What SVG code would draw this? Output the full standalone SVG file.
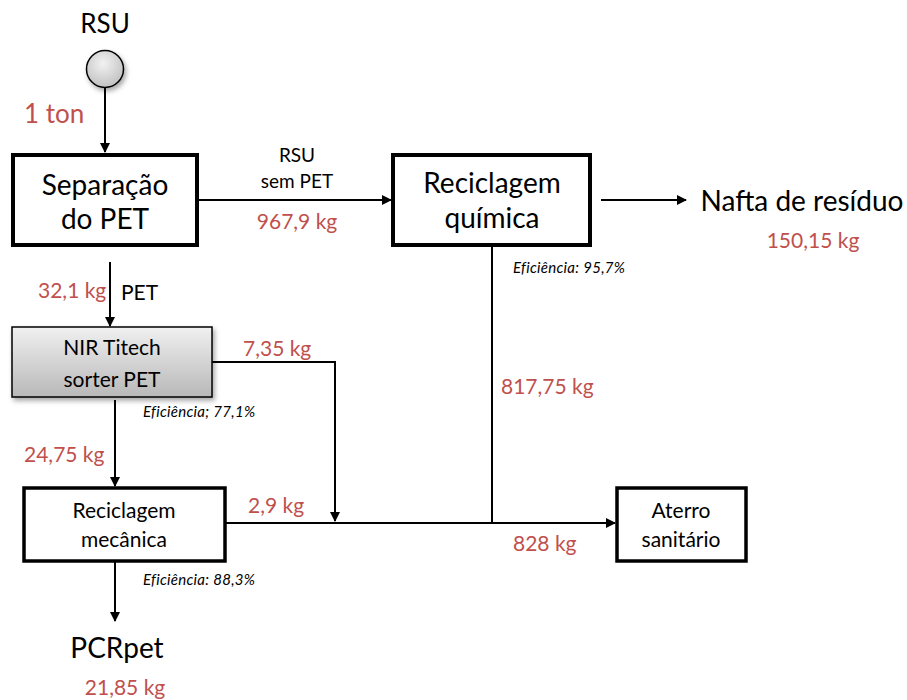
<svg xmlns="http://www.w3.org/2000/svg" width="907" height="700" viewBox="0 0 907 700">
  <style>
    text { font-family: Lato, "Open Sans", "Liberation Sans", sans-serif; fill: #000; }
    .big { font-size: 28px; }
    .mid { font-size: 21px; }
    .sm { font-size: 19px; }
    .qty { fill: #C0504D; font-size: 21px; }
    .eff { font-style: italic; font-size: 15px; letter-spacing: 0.3px; }
    .box { fill: #fff; stroke: #000; stroke-width: 4; }
    .line { fill: none; stroke: #000; stroke-width: 2; }
  </style>
  <defs>
    <marker id="arrow" markerWidth="10" markerHeight="10" refX="9" refY="5" orient="auto" markerUnits="userSpaceOnUse">
      <path d="M0,0 L10,5 L0,10 z" fill="#000"/>
    </marker>
    <linearGradient id="grayV" x1="0" y1="0" x2="0" y2="1">
      <stop offset="0" stop-color="#f0f0f0"/>
      <stop offset="1" stop-color="#b8b8b8"/>
    </linearGradient>
    <radialGradient id="grayR" cx="0.45" cy="0.35" r="0.7">
      <stop offset="0" stop-color="#f2f2f2"/>
      <stop offset="1" stop-color="#bdbdbd"/>
    </radialGradient>
    <filter id="shadow" x="-20%" y="-20%" width="150%" height="150%">
      <feDropShadow dx="2" dy="3" stdDeviation="2.5" flood-color="#000" flood-opacity="0.35"/>
    </filter>
  </defs>

  <!-- connectors -->
  <g id="connectors">
    <line class="line" x1="105" y1="88" x2="105" y2="152" marker-end="url(#arrow)"/>
    <line class="line" x1="197" y1="200" x2="391" y2="200" marker-end="url(#arrow)"/>
    <line class="line" x1="601" y1="200" x2="686" y2="200" marker-end="url(#arrow)"/>
    <line class="line" x1="110" y1="262" x2="110" y2="326" marker-end="url(#arrow)"/>
    <polyline class="line" points="212,362 335,362 335,521" marker-end="url(#arrow)"/>
    <line class="line" x1="115" y1="400" x2="115" y2="486" marker-end="url(#arrow)"/>
    <line class="line" x1="225" y1="523" x2="492" y2="523"/>
    <line class="line" x1="492" y1="246" x2="492" y2="523"/>
    <line class="line" x1="492" y1="523" x2="615" y2="523" stroke-width="3" marker-end="url(#arrow)"/>
    <line class="line" x1="115" y1="561" x2="115" y2="621" marker-end="url(#arrow)"/>
  </g>

  <!-- source -->
  <g id="rsu">
    <text class="big" x="105" y="33" text-anchor="middle" style="font-size:26px">RSU</text>
    <circle cx="105" cy="69" r="18.5" fill="url(#grayR)" stroke="#000" stroke-width="1.5" filter="url(#shadow)"/>
    <text class="qty" x="24" y="123" style="font-size:26px">1 ton</text>
  </g>

  <g id="separacao">
    <rect class="box" x="13" y="155" width="184" height="90"/>
    <text class="big" x="105" y="195" text-anchor="middle">Separação</text>
    <text class="big" x="105" y="229" text-anchor="middle">do PET</text>
  </g>

  <g id="flow-rsu-sem-pet">
    <text class="sm" x="297" y="162" text-anchor="middle">RSU</text>
    <text class="sm" x="297" y="188" text-anchor="middle">sem PET</text>
    <text class="qty" x="297" y="229" text-anchor="middle">967,9 kg</text>
  </g>

  <g id="reciclagem-quimica">
    <rect class="box" x="393" y="155" width="197" height="90"/>
    <text class="big" x="492" y="193" text-anchor="middle">Reciclagem</text>
    <text class="big" x="492" y="228" text-anchor="middle">química</text>
    <text class="eff" x="513" y="273">Eficiência: 95,7%</text>
  </g>

  <g id="nafta">
    <text class="big" x="802" y="211" text-anchor="middle">Nafta de resíduo</text>
    <text class="qty" x="813" y="248" text-anchor="middle">150,15 kg</text>
  </g>

  <g id="flow-pet">
    <text class="qty" x="38" y="298">32,1 kg</text>
    <text class="mid" x="121" y="300">PET</text>
  </g>

  <g id="nir-sorter">
    <rect x="12" y="327" width="200" height="70" fill="url(#grayV)" stroke="#000" stroke-width="1.5" filter="url(#shadow)"/>
    <text class="mid" x="112" y="355" text-anchor="middle">NIR Titech</text>
    <text class="mid" x="112" y="387" text-anchor="middle">sorter PET</text>
    <text class="eff" x="143" y="417">Eficiência; 77,1%</text>
  </g>

  <g id="flow-labels">
    <text class="qty" x="243" y="356">7,35 kg</text>
    <text class="qty" x="24" y="462">24,75 kg</text>
    <text class="qty" x="248" y="513">2,9 kg</text>
    <text class="qty" x="501" y="394">817,75 kg</text>
    <text class="qty" x="513" y="551">828 kg</text>
  </g>

  <g id="reciclagem-mecanica">
    <rect class="box" x="24" y="488" width="201" height="73" style="stroke-width:3.5"/>
    <text class="mid" x="124" y="518" text-anchor="middle">Reciclagem</text>
    <text class="mid" x="124" y="547" text-anchor="middle">mecânica</text>
    <text class="eff" x="143" y="585">Eficiência: 88,3%</text>
  </g>

  <g id="aterro">
    <rect class="box" x="617" y="488" width="129" height="73" style="stroke-width:3.5"/>
    <text class="mid" x="681" y="518" text-anchor="middle">Aterro</text>
    <text class="mid" x="681" y="547" text-anchor="middle">sanitário</text>
  </g>

  <g id="pcrpet">
    <text class="big" x="117" y="658" text-anchor="middle">PCRpet</text>
    <text class="qty" x="125" y="695" text-anchor="middle">21,85 kg</text>
  </g>
</svg>
